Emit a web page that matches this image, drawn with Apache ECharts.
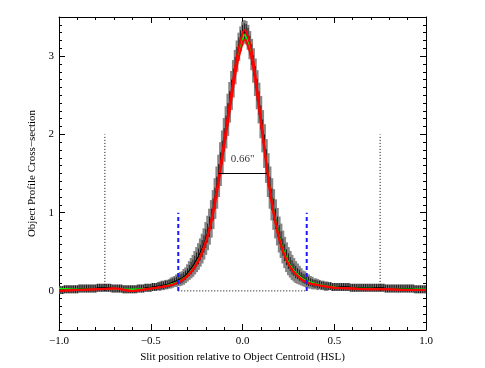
<!DOCTYPE html>
<html><head><meta charset="utf-8">
<script src="https://cdn.jsdelivr.net/npm/echarts@6/dist/echarts.min.js"></script>
<style>html,body{margin:0;padding:0;background:#fff}#c{width:485px;height:368px}</style>
</head><body><div id="c"></div>
<script>
// sampled profile: x from -1.00 to 1.00 step 0.01 (201 samples)
const X0 = -1.0, DX = 0.01;
const profileY = [
 0.01,
 0.01,0.01,0.02,0.02,0.02,0.02,0.02,0.02,0.02,0.02,
 0.03,0.03,0.03,0.03,0.03,0.03,0.03,0.03,0.03,0.03,
 0.04,0.04,0.04,0.04,0.04,0.04,0.04,0.04,0.03,0.03,
 0.03,0.03,0.03,0.03,0.02,0.02,0.02,0.02,0.02,0.02,
 0.02,0.02,0.03,0.03,0.03,0.03,0.04,0.04,0.04,0.04,
 0.05,0.05,0.05,0.06,0.06,0.07,0.07,0.08,0.08,0.09,
 0.10,0.11,0.12,0.13,0.14,0.15,0.16,0.18,0.20,0.23,
 0.26,0.29,0.32,0.36,0.40,0.44,0.49,0.54,0.60,0.67,
 0.74,0.82,0.92,1.04,1.18,1.32,1.47,1.62,1.77,1.93,
 2.09,2.25,2.41,2.56,2.71,2.86,3.00,3.12,3.22,3.29,
 3.31,3.30,3.24,3.14,3.02,2.88,2.73,2.57,2.40,2.22,
 2.04,1.85,1.66,1.48,1.32,1.17,1.04,0.92,0.82,0.72,
 0.64,0.56,0.49,0.43,0.38,0.34,0.30,0.27,0.24,0.22,
 0.20,0.18,0.16,0.15,0.13,0.12,0.11,0.10,0.09,0.09,
 0.08,0.08,0.07,0.07,0.06,0.06,0.06,0.06,0.05,0.05,
 0.05,0.05,0.05,0.05,0.05,0.05,0.05,0.05,0.04,0.04,
 0.04,0.04,0.04,0.04,0.04,0.04,0.04,0.04,0.04,0.04,
 0.04,0.04,0.04,0.04,0.04,0.04,0.04,0.03,0.03,0.03,
 0.03,0.03,0.03,0.03,0.03,0.03,0.03,0.03,0.03,0.03,
 0.03,0.03,0.03,0.02,0.02,0.02,0.02,0.02,0.02,0.02
];
// total (gray) error half-widths
const grayErr = [
 0.05,
 0.05,0.05,0.05,0.05,0.05,0.05,0.05,0.05,0.05,0.05,
 0.05,0.05,0.05,0.05,0.05,0.05,0.05,0.05,0.05,0.05,
 0.05,0.05,0.05,0.05,0.05,0.05,0.05,0.05,0.05,0.05,
 0.05,0.05,0.05,0.05,0.05,0.05,0.05,0.05,0.05,0.05,
 0.05,0.05,0.05,0.05,0.05,0.05,0.05,0.05,0.05,0.05,
 0.05,0.05,0.05,0.05,0.06,0.06,0.06,0.06,0.06,0.06,
 0.07,0.07,0.07,0.08,0.08,0.09,0.09,0.10,0.10,0.11,
 0.12,0.13,0.14,0.15,0.16,0.17,0.18,0.19,0.20,0.21,
 0.22,0.23,0.24,0.25,0.26,0.27,0.27,0.28,0.28,0.28,
 0.27,0.27,0.26,0.25,0.24,0.22,0.20,0.18,0.16,0.15,
 0.15,0.15,0.16,0.18,0.20,0.22,0.24,0.25,0.26,0.27,
 0.27,0.28,0.28,0.28,0.27,0.27,0.26,0.25,0.24,0.23,
 0.22,0.21,0.20,0.19,0.18,0.17,0.16,0.15,0.14,0.13,
 0.12,0.11,0.10,0.10,0.09,0.09,0.08,0.08,0.07,0.07,
 0.07,0.06,0.06,0.06,0.06,0.06,0.05,0.05,0.05,0.05,
 0.05,0.05,0.05,0.05,0.05,0.05,0.05,0.05,0.05,0.05,
 0.05,0.05,0.05,0.05,0.05,0.05,0.05,0.05,0.05,0.05,
 0.05,0.05,0.05,0.05,0.05,0.05,0.05,0.05,0.05,0.05,
 0.05,0.05,0.05,0.05,0.05,0.05,0.05,0.05,0.05,0.05,
 0.05,0.05,0.05,0.05,0.05,0.05,0.05,0.05,0.05,0.05
];
// statistical (black) error half-widths
const blackErr = [
 0.05,
 0.05,0.05,0.05,0.05,0.05,0.05,0.05,0.05,0.05,0.05,
 0.05,0.05,0.05,0.05,0.05,0.05,0.05,0.05,0.05,0.05,
 0.05,0.05,0.05,0.05,0.05,0.05,0.05,0.05,0.05,0.05,
 0.05,0.05,0.05,0.05,0.05,0.05,0.05,0.05,0.05,0.05,
 0.05,0.05,0.05,0.05,0.05,0.05,0.05,0.05,0.05,0.05,
 0.05,0.05,0.05,0.05,0.05,0.05,0.05,0.05,0.05,0.05,
 0.05,0.05,0.05,0.05,0.06,0.06,0.06,0.06,0.06,0.06,
 0.07,0.08,0.08,0.09,0.09,0.10,0.10,0.11,0.11,0.12,
 0.12,0.13,0.13,0.14,0.14,0.14,0.15,0.15,0.15,0.15,
 0.15,0.15,0.14,0.14,0.13,0.13,0.12,0.12,0.11,0.11,
 0.11,0.11,0.12,0.12,0.13,0.13,0.14,0.14,0.15,0.15,
 0.15,0.15,0.15,0.15,0.14,0.14,0.14,0.13,0.13,0.12,
 0.12,0.11,0.11,0.10,0.10,0.09,0.09,0.08,0.08,0.07,
 0.07,0.06,0.06,0.06,0.06,0.06,0.05,0.05,0.05,0.05,
 0.05,0.05,0.05,0.05,0.05,0.05,0.05,0.05,0.05,0.05,
 0.05,0.05,0.05,0.05,0.05,0.05,0.05,0.05,0.05,0.05,
 0.05,0.05,0.05,0.05,0.05,0.05,0.05,0.05,0.05,0.05,
 0.05,0.05,0.05,0.05,0.05,0.05,0.05,0.05,0.05,0.05,
 0.05,0.05,0.05,0.05,0.05,0.05,0.05,0.05,0.05,0.05,
 0.05,0.05,0.05,0.05,0.05,0.05,0.05,0.05,0.05,0.05
];
// model curves
const modelX = [-1,-0.9,-0.8,-0.7,-0.6,-0.5,-0.44,-0.38,-0.34,-0.30,-0.26,-0.22,-0.18,-0.14,-0.10,-0.06,-0.03,0,0.01,0.02,0.05,0.08,0.12,0.16,0.20,0.24,0.28,0.32,0.36,0.42,0.5,0.6,0.7,0.8,0.9,1.0];
const greenY = [0.03,0.02,0.02,0.02,0.02,0.03,0.05,0.09,0.13,0.20,0.32,0.50,0.78,1.26,1.88,2.50,2.95,3.22,3.27,3.25,3.02,2.55,1.82,1.15,0.70,0.42,0.26,0.17,0.12,0.08,0.05,0.03,0.03,0.02,0.02,0.02];
const redHiY = [0.00,0.01,0.02,0.03,0.00,0.03,0.05,0.08,0.12,0.19,0.31,0.50,0.80,1.30,1.92,2.55,3.00,3.29,3.33,3.31,3.07,2.58,1.82,1.13,0.67,0.39,0.24,0.15,0.10,0.07,0.04,0.03,0.02,0.02,0.01,0.01];
const redLoY = [0.00,0.01,0.02,0.03,0.00,0.03,0.05,0.08,0.12,0.19,0.30,0.48,0.77,1.24,1.84,2.45,2.88,3.16,3.21,3.19,2.96,2.50,1.78,1.11,0.66,0.39,0.24,0.15,0.10,0.07,0.04,0.03,0.02,0.02,0.01,0.01];
// annotation markers
const outerX = [-0.75, 0.75], outerTop = 2;
const slitX = [-0.35, 0.35], slitTop = 1;
const zeroSpan = [-0.35, 0.35];
const fwhmX = [-0.131, 0.133], fwhmY = 1.5, fwhmText = '0.66"', fwhmTextY = 1.68;
const xTicks = [-1, 1, 0.5];
const yMajor = [0, 1, 2, 3];

const profileX = profileY.map((_, i) => +(X0 + i * DX).toFixed(2));
const grayData = profileY.map((y, i) => [profileX[i], y, grayErr[i]]);
const blackData = profileY.map((y, i) => [profileX[i], y, blackErr[i]]);
const FONT = 'Liberation Serif';
const fmtX = v => v.toFixed(1).replace('-', '\u2212');

const baseX = {
  type: 'value', min: xTicks[0], max: xTicks[1], interval: xTicks[2],
  axisLine: {show: true, onZero: false, lineStyle: {color: '#000', width: 1}},
  axisTick: {show: true, inside: true, length: 6, lineStyle: {color: '#000'}},
  minorTick: {show: true, splitNumber: 5, length: 3, lineStyle: {color: '#000'}},
  splitLine: {show: false}, minorSplitLine: {show: false}
};
const yMinor = {
  type: 'value', min: -0.5, max: 3.5, interval: 0.1,
  axisLine: {show: true, onZero: false, lineStyle: {color: '#000', width: 1}},
  axisTick: {show: true, inside: true, length: 3, lineStyle: {color: '#000'}},
  splitLine: {show: false}
};
const yMajorAx = {
  type: 'value', min: -0.5, max: 3.5, interval: 0.1,
  axisLine: {show: false, onZero: false},
  axisTick: {show: true, inside: true, length: 6, customValues: yMajor, lineStyle: {color: '#000'}},
  axisLabel: {show: false},
  splitLine: {show: false}
};

function barItem(kind) {
  return function (params, api) {
    const x = api.value(0), y = api.value(1), e = api.value(2);
    const t = api.coord([x, y + e]), b = api.coord([x, y - e]);
    const cx = t[0];
    if (kind === 'gray') {
      return {type: 'rect', shape: {x: cx - 1.4, y: t[1], width: 2.8, height: b[1] - t[1]}, style: {fill: '#858585'}};
    }
    return {type: 'line', shape: {x1: cx, y1: t[1], x2: cx, y2: b[1]}, style: {stroke: '#111', lineWidth: 0.9}};
  };
}

const chart = echarts.init(document.getElementById('c'), null, {renderer: 'canvas'});
chart.setOption({
  animation: false,
  backgroundColor: '#fff',
  grid: {left: 59, right: 59, top: 17, bottom: 38},
  xAxis: [
    Object.assign({}, baseX, {position: 'bottom',
      axisLabel: {show: true, formatter: fmtX, color: '#000', fontFamily: FONT, fontSize: 11, margin: 6},
      name: 'Slit position relative to Object Centroid (HSL)', nameLocation: 'middle', nameGap: 18,
      nameTextStyle: {color: '#000', fontFamily: FONT, fontSize: 11}}),
    Object.assign({}, baseX, {position: 'top', axisLabel: {show: false}})
  ],
  yAxis: [
    Object.assign({}, yMinor, {position: 'left',
      axisLabel: {show: true, customValues: yMajor, color: '#000', fontFamily: FONT, fontSize: 11, margin: 5},
      name: 'Object Profile Cross\u2212section', nameLocation: 'middle', nameGap: 16, nameRotate: 90,
      nameTextStyle: {color: '#000', fontFamily: FONT, fontSize: 11}}),
    Object.assign({}, yMajorAx, {position: 'left'}),
    Object.assign({}, yMinor, {position: 'right', axisLabel: {show: false}}),
    Object.assign({}, yMajorAx, {position: 'right'})
  ],
  series: [
    {type: 'custom', z: 1, data: grayData, clip: true, renderItem: barItem('gray')},
    {type: 'custom', z: 1.5, data: blackData, clip: true, renderItem: barItem('black')},
    {type: 'line', z: 2, symbol: 'none', smooth: 0.3, data: profileY.map((y, i) => [profileX[i], y]),
      lineStyle: {color: '#000', width: 1.2}},
    {type: 'line', z: 3, symbol: 'none', smooth: 0.4, data: greenY.map((y, i) => [modelX[i], y]),
      lineStyle: {color: '#00ff00', width: 1.5}},
    {type: 'line', z: 4, symbol: 'none', smooth: 0.4, data: redHiY.map((y, i) => [modelX[i], y]),
      lineStyle: {color: '#ff0000', width: 2}},
    {type: 'line', z: 4, symbol: 'none', smooth: 0.4, data: redLoY.map((y, i) => [modelX[i], y]),
      lineStyle: {color: '#ff0000', width: 2}},
    ...outerX.map(x => ({type: 'line', z: 5, symbol: 'none', data: [[x, 0], [x, outerTop]],
      lineStyle: {color: '#000', width: 1, type: [1, 2]}})),
    ...slitX.map(x => ({type: 'line', z: 6, symbol: 'none', data: [[x, 0], [x, slitTop]],
      lineStyle: {color: '#1a1aff', width: 2, type: [4, 3]}})),
    {type: 'line', z: 5, symbol: 'none', data: [[zeroSpan[0], 0], [zeroSpan[1], 0]],
      lineStyle: {color: '#000', width: 1, type: [1, 2]}},
    {type: 'line', z: 6, symbol: 'none', data: [[fwhmX[0], fwhmY], [fwhmX[1], fwhmY]],
      lineStyle: {color: '#000', width: 1}},
    {type: 'scatter', z: 7, symbolSize: 0, data: [[(fwhmX[0] + fwhmX[1]) / 2, fwhmTextY]],
      label: {show: true, position: 'inside', formatter: fwhmText, color: '#000', fontFamily: FONT, fontSize: 11}}
  ]
});
</script></body></html>
